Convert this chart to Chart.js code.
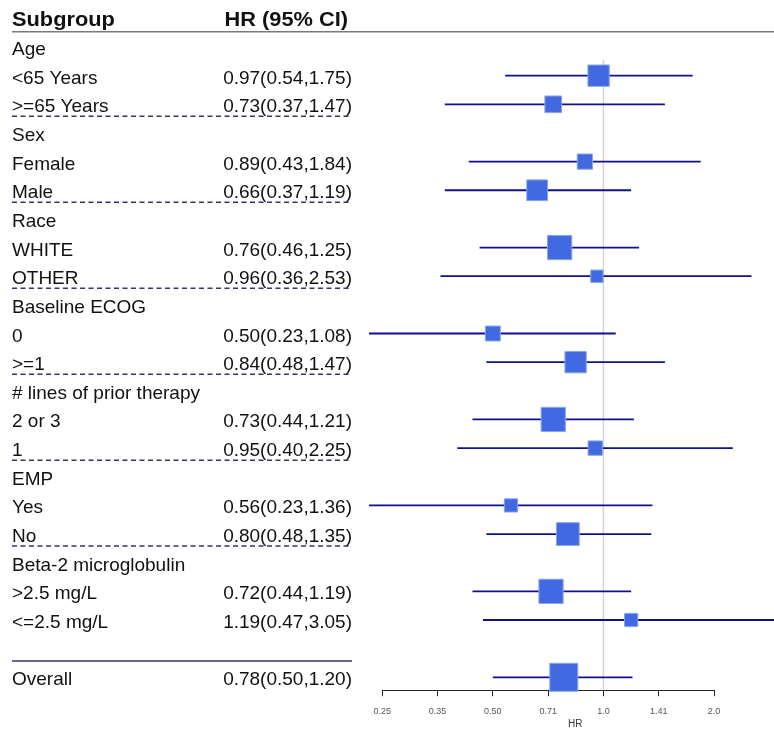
<!DOCTYPE html>
<html>
<head>
<meta charset="utf-8">
<script src="https://cdn.jsdelivr.net/npm/chart.js@4/dist/chart.umd.min.js"></script>
<style>
  html, body { margin: 0; padding: 0; background: #fff; }
  #wrap { width: 774px; height: 730px; }
</style>
</head>
<body>
<div id="wrap"><canvas id="forest" width="774" height="730"></canvas></div>
<script>
// rows, top to bottom (group headings have no estimate)
const rowLabels = ['Age', '<65 Years', '>=65 Years', 'Sex', 'Female', 'Male', 'Race', 'WHITE', 'OTHER',
  'Baseline ECOG', '0', '>=1', '# lines of prior therapy', '2 or 3', '1', 'EMP', 'Yes', 'No',
  'Beta-2 microglobulin', '>2.5 mg/L', '<=2.5 mg/L', '', 'Overall'];
const hrText = ['', '0.97(0.54,1.75)', '0.73(0.37,1.47)', '', '0.89(0.43,1.84)', '0.66(0.37,1.19)', '',
  '0.76(0.46,1.25)', '0.96(0.36,2.53)', '', '0.50(0.23,1.08)', '0.84(0.48,1.47)', '', '0.73(0.44,1.21)',
  '0.95(0.40,2.25)', '', '0.56(0.23,1.36)', '0.80(0.48,1.35)', '', '0.72(0.44,1.19)', '1.19(0.47,3.05)', '',
  '0.78(0.50,1.20)'];
const hr = [null, 0.97, 0.73, null, 0.89, 0.66, null, 0.76, 0.96, null, 0.50, 0.84, null, 0.73, 0.95, null,
  0.56, 0.80, null, 0.72, 1.19, null, 0.78];
const lower = [null, 0.54, 0.37, null, 0.43, 0.37, null, 0.46, 0.36, null, 0.23, 0.48, null, 0.44, 0.40, null,
  0.23, 0.48, null, 0.44, 0.47, null, 0.50];
const upper = [null, 1.75, 1.47, null, 1.84, 1.19, null, 1.25, 2.53, null, 1.08, 1.47, null, 1.21, 2.25, null,
  1.36, 1.35, null, 1.19, 3.05, null, 1.20];
// relative box weight (overall = 1)
const weights = [null, 0.77, 0.61, null, 0.56, 0.75, null, 0.87, 0.46, null, 0.55, 0.77, null, 0.87, 0.53, null,
  0.49, 0.82, null, 0.87, 0.49, null, 1.0];
// groups end after these rows (dashed separators)
const groupEnds = [2, 5, 8, 11, 14, 17];
const tickValues = [0.25, 0.3536, 0.5, 0.7071, 1.0, 1.4142, 2.0];
const tickLabels = ['0.25', '0.35', '0.50', '0.71', '1.0', '1.41', '2.0'];

const BOX_MAX = 29;
const FONT = '"Liberation Sans", Arial, sans-serif';

const ciSets = [];
hr.forEach((v, i) => {
  if (v === null) return;
  ciSets.push({
    type: 'line',
    data: [{x: lower[i], y: i}, {x: upper[i], y: i}],
    borderColor: '#10108c',
    borderWidth: 1.8,
    pointRadius: 0,
    clip: false,
    order: 1
  });
});

const boxPoints = [];
const boxRadius = [];
hr.forEach((v, i) => {
  if (v === null) return;
  boxPoints.push({x: v, y: i});
  boxRadius.push((weights[i] * BOX_MAX - 1) / Math.SQRT2);
});

const forestText = {
  id: 'forestText',
  beforeDatasetsDraw(chart) {
    const ctx = chart.ctx, x = chart.scales.x, y = chart.scales.y;
    const px = x.getPixelForValue(1);
    ctx.save();
    ctx.strokeStyle = '#d4d4d4';
    ctx.lineWidth = 1.5;
    ctx.beginPath();
    ctx.moveTo(px, y.getPixelForValue(0.45));
    ctx.lineTo(px, chart.chartArea.bottom);
    ctx.stroke();
    ctx.restore();
  },
  afterDraw(chart) {
    const ctx = chart.ctx, y = chart.scales.y, x = chart.scales.x;
    const left = 12, right = 352;
    ctx.save();
    ctx.fillStyle = '#111';
    // header
    const hy = y.getPixelForValue(-1) + 7.5;
    ctx.font = 'bold 20px ' + FONT;
    ctx.textBaseline = 'alphabetic';
    ctx.save(); ctx.translate(left, hy); ctx.scale(1.09, 1);
    ctx.textAlign = 'left'; ctx.fillText('Subgroup', 0, 0); ctx.restore();
    ctx.save(); ctx.translate(348, hy); ctx.scale(1.09, 1);
    ctx.textAlign = 'right'; ctx.fillText('HR (95% CI)', 0, 0); ctx.restore();

    ctx.strokeStyle = '#7a7a7a';
    ctx.lineWidth = 1.5;
    ctx.beginPath();
    ctx.moveTo(left, y.top - 1);
    ctx.lineTo(chart.width, y.top - 1);
    ctx.stroke();

    // rows
    ctx.font = '19px ' + FONT;
    rowLabels.forEach((lab, i) => {
      const ty = y.getPixelForValue(i) + 8;
      ctx.textAlign = 'left';
      ctx.fillText(lab, left, ty);
      ctx.textAlign = 'right';
      ctx.fillText(hrText[i], right, ty);
    });

    // separators
    ctx.strokeStyle = '#34346a';
    ctx.lineWidth = 1.5;
    ctx.setLineDash([5, 3.5]);
    groupEnds.forEach(g => {
      const sy = y.getPixelForValue(g + 0.42);
      ctx.beginPath();
      ctx.moveTo(left, sy);
      ctx.lineTo(right, sy);
      ctx.stroke();
    });
    ctx.setLineDash([]);
    const oy = y.getPixelForValue(21.43);
    ctx.beginPath();
    ctx.moveTo(left, oy);
    ctx.lineTo(right, oy);
    ctx.stroke();

    // axis title
    ctx.fillStyle = '#333';
    ctx.font = '10px ' + FONT;
    ctx.textAlign = 'center';
    ctx.textBaseline = 'alphabetic';
    ctx.fillText('HR', (x.left - 6 + chart.width) / 2, 727);
    ctx.restore();
  }
};

new Chart(document.getElementById('forest'), {
  type: 'scatter',
  data: {
    datasets: [
      {
        type: 'scatter',
        data: boxPoints,
        pointStyle: 'rect',
        pointRadius: boxRadius,
        pointHoverRadius: boxRadius,
        backgroundColor: '#4169e1',
        borderColor: '#8ca4ee',
        borderWidth: 1,
        clip: false,
        order: 0
      },
      ...ciSets
    ]
  },
  options: {
    responsive: false,
    animation: false,
    devicePixelRatio: 1,
    layout: { padding: { left: 382.3, right: 60, top: 32.7, bottom: 3 } },
    plugins: { legend: { display: false }, tooltip: { enabled: false } },
    events: [],
    scales: {
      x: {
        type: 'logarithmic',
        position: 'bottom',
        min: 0.25,
        max: 2,
        bounds: 'data',
        afterBuildTicks: s => { s.ticks = tickValues.map(v => ({value: v})); },
        grid: { display: true, drawOnChartArea: false, drawTicks: true, tickLength: 6, color: '#222', lineWidth: 1 },
        border: { display: true, color: '#222', width: 1 },
        ticks: {
          autoSkip: false, maxRotation: 0, padding: 10,
          color: '#555', font: { size: 9, family: FONT },
          callback: (v, i) => tickLabels[i]
        }
      },
      y: {
        type: 'linear',
        reverse: true,
        min: -0.5,
        max: 22.45,
        display: false
      }
    }
  },
  plugins: [forestText]
});
</script>
</body>
</html>
